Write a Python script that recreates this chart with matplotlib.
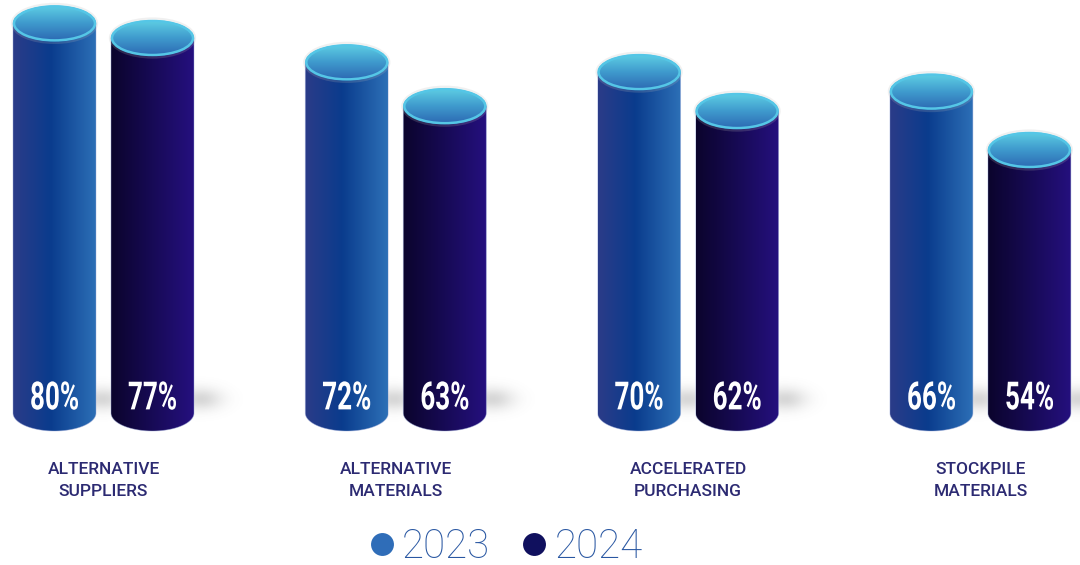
import numpy as np
import matplotlib
matplotlib.use("Agg")
import matplotlib.pyplot as plt
from matplotlib.patches import Ellipse, PathPatch
from matplotlib.path import Path
from matplotlib.colors import LinearSegmentedColormap
from matplotlib.lines import Line2D
from matplotlib.patheffects import AbstractPathEffect
from matplotlib.transforms import Affine2D
from matplotlib import font_manager

# ---- data ---------------------------------------------------------------
categories = [
    ["ALTERNATIVE", "SUPPLIERS"],
    ["ALTERNATIVE", "MATERIALS"],
    ["ACCELERATED", "PURCHASING"],
    ["STOCKPILE", "MATERIALS"],
]
series_names = ["2023", "2024"]
values_2023 = [80, 72, 70, 66]
values_2024 = [77, 63, 62, 54]

# ---- fonts --------------------------------------------------------------
installed = {f.name for f in font_manager.fontManager.ttflist}
label_family = "Roboto" if "Roboto" in installed else "DejaVu Sans"


class Squeeze(AbstractPathEffect):
    """Narrow the glyph outlines horizontally around the text centre."""

    def __init__(self, factor):
        super().__init__()
        self.factor = factor

    def draw_path(self, renderer, gc, tpath, affine, rgbFace=None):
        ext = tpath.get_extents()
        cx = 0.5 * (ext.x0 + ext.x1)
        squeeze = Affine2D().translate(-cx, 0).scale(self.factor, 1).translate(cx, 0)
        renderer.draw_path(gc, tpath, squeeze + affine, rgbFace)


# ---- canvas -------------------------------------------------------------
W, H, DPI = 1080, 565, 100
fig = plt.figure(figsize=(W / DPI, H / DPI), dpi=DPI)
fig.patch.set_facecolor("white")
ax = fig.add_axes([0, 0, 1, 1])
ax.axis("off")

# pixel geometry of the value axis and category axis
PX_PER_PCT = 4.87
BASE_PX = 152.0
GROUP_PX = 292.3
FIRST_PX = 103.5
xlim = (-FIRST_PX / GROUP_PX, (W - FIRST_PX) / GROUP_PX)
ylim = (-BASE_PX / PX_PER_PCT, (H - BASE_PX) / PX_PER_PCT)
sx = 1.0 / GROUP_PX      # x data units per pixel
sy = 1.0 / PX_PER_PCT    # y data units per pixel

half_w = 41.5 * sx
ell_h = 18.0 * sy
offset = 49.0 * sx

body_cmaps = {
    "2023": LinearSegmentedColormap.from_list(
        "b23", [(0.0, "#2b3b88"), (0.45, "#0a3c8d"), (1.0, "#2d70b7")]),
    "2024": LinearSegmentedColormap.from_list(
        "b24", [(0.0, "#0b042c"), (0.5, "#170a55"), (1.0, "#25107f")]),
}
cap_cmap = LinearSegmentedColormap.from_list("cap", ["#2c68b2", "#3f9acd", "#5fd0e4"])
legend_colors = {"2023": "#2f6db8", "2024": "#10105e"}


def add_shadow(xc, zorder):
    sig_x, sig_y = 15 * sx, 8 * sy
    cx, cy = xc + half_w + 6 * sx, 2.8
    g = np.linspace(-3, 3, 80)
    XX, YY = np.meshgrid(g, g)
    rgba = np.zeros((80, 80, 4))
    rgba[..., :3] = 0.35
    rgba[..., 3] = 0.24 * np.exp(-0.5 * (XX ** 2 + YY ** 2))
    ax.imshow(rgba, extent=[cx - 3 * sig_x, cx + 3 * sig_x, cy - 3 * sig_y, cy + 3 * sig_y],
              origin="lower", aspect="auto", interpolation="bilinear", zorder=zorder)


def draw_cylinder(xc, value, series, z):
    # body: rectangle with a half-ellipse base
    t = np.linspace(np.pi, 2 * np.pi, 80)
    verts = [(xc - half_w, value)]
    verts += list(zip(xc + half_w * np.cos(t), ell_h * np.sin(t)))
    verts += [(xc + half_w, value), (xc - half_w, value)]
    codes = [Path.MOVETO] + [Path.LINETO] * (len(verts) - 2) + [Path.CLOSEPOLY]
    body = PathPatch(Path(verts, codes), facecolor="none", edgecolor="none", zorder=z)
    ax.add_patch(body)
    grad = np.linspace(0, 1, 256).reshape(1, -1)
    im = ax.imshow(grad, cmap=body_cmaps[series], extent=[xc - half_w, xc + half_w, -ell_h, value],
                   aspect="auto", interpolation="bicubic", zorder=z)
    im.set_clip_path(body)
    ax.add_patch(PathPatch(Path(verts, codes), facecolor="none", edgecolor="#9aa8d8",
                           lw=0.6, alpha=0.5, zorder=z + 0.1))

    # faint halo and top cap
    ax.add_patch(Ellipse((xc, value), 2 * half_w + 2 * sx, 2 * ell_h + 3 * sy,
                         facecolor="none", edgecolor="#b8b8b8", lw=1.6, alpha=0.2, zorder=z + 0.15))
    cap = Ellipse((xc, value), 2 * half_w, 2 * ell_h, facecolor="none", edgecolor="none", zorder=z + 0.2)
    ax.add_patch(cap)
    vgrad = np.linspace(0, 1, 256).reshape(-1, 1)
    im2 = ax.imshow(vgrad, cmap=cap_cmap, origin="lower",
                    extent=[xc - half_w, xc + half_w, value - ell_h, value + ell_h],
                    aspect="auto", interpolation="bicubic", zorder=z + 0.2)
    im2.set_clip_path(cap)
    ax.add_patch(Ellipse((xc, value), 2 * half_w - 2 * sx, 2 * ell_h - 2 * sy,
                         facecolor="none", edgecolor="#55c6e6", lw=1.8, zorder=z + 0.3))

    # value label near the base
    ax.text(xc, 2.9, f"{value}%", color="white", fontsize=28, ha="center", va="center",
            family=label_family, weight="bold", zorder=z + 0.4,
            path_effects=[Squeeze(0.67)])


for i, cat in enumerate(categories):
    for j, (series, vals) in enumerate(zip(series_names, [values_2023, values_2024])):
        xc = i + (j - 0.5) * 2 * offset
        add_shadow(xc, zorder=1)
        draw_cylinder(xc, vals[i], series, z=2 + j)
    for k, line in enumerate(cat):
        ax.text(i, -11.7 - k * 4.4, line, ha="center", va="center", fontsize=12.5,
                family=label_family, weight="medium", color="#2c2a72")

ax.set_xlim(*xlim)
ax.set_ylim(*ylim)

# ---- legend -------------------------------------------------------------
handles = [Line2D([], [], ls="none", marker="o", markersize=16.5,
                  markerfacecolor=legend_colors[s], markeredgecolor="none", label=s)
           for s in series_names]
fig.legend(handles=handles, loc="center", bbox_to_anchor=(506 / W, 1 - 547 / H), ncol=2,
           frameon=False, handlelength=0.6, handletextpad=0.2, columnspacing=0.8,
           borderpad=0, borderaxespad=0,
           prop=dict(family=label_family, size=29, weight="light"), labelcolor="#2957a2")

fig.savefig("out.png", dpi=DPI, facecolor="white")
